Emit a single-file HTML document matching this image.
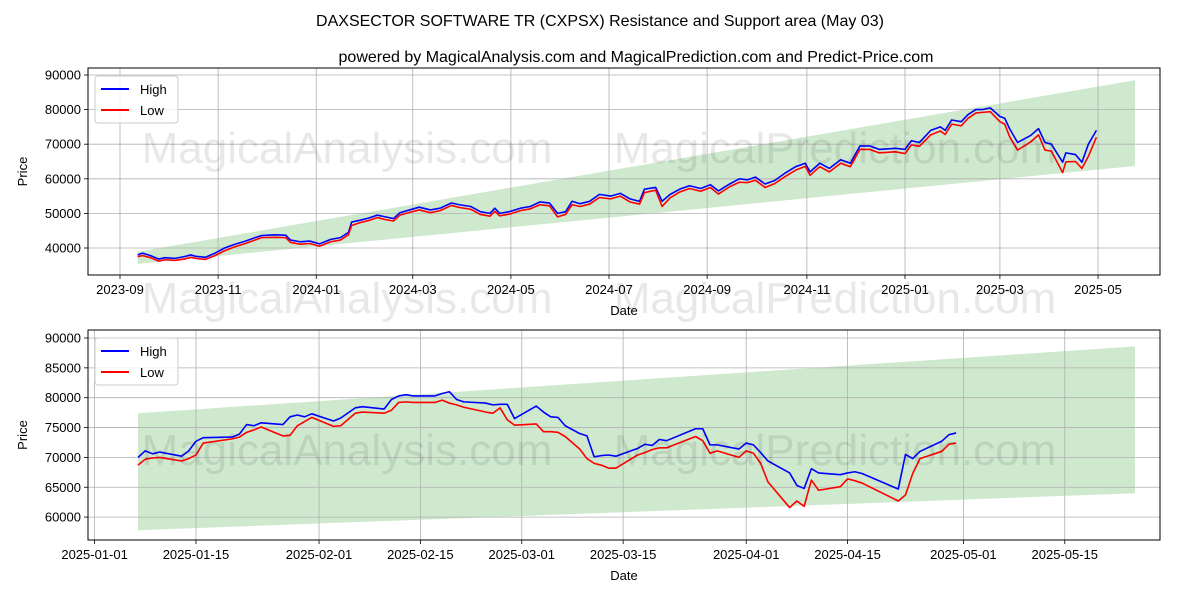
<!DOCTYPE html>
<html><head><meta charset="utf-8"><style>
body{margin:0;background:#fff;}
svg{display:block;font-family:"Liberation Sans","DejaVu Sans",sans-serif;}
</style></head><body>
<svg id="chart" width="1200" height="600" viewBox="0 0 1200 600" xmlns="http://www.w3.org/2000/svg">
<rect width="1200" height="600" fill="#fff"/>
<text x="600" y="26" text-anchor="middle" font-size="16">DAXSECTOR SOFTWARE TR (CXPSX) Resistance and Support area (May 03)</text>
<text x="636" y="62" text-anchor="middle" font-size="16">powered by MagicalAnalysis.com and MagicalPrediction.com and Predict-Price.com</text>
<g id="top"></g>
<g id="bot"></g>
<g font-size="44" fill="#000" fill-opacity="0.09">
<text x="347" y="163" text-anchor="middle">MagicalAnalysis.com</text>
<text x="835" y="163" text-anchor="middle">MagicalPrediction.com</text>
<text x="347" y="313" text-anchor="middle">MagicalAnalysis.com</text>
<text x="835" y="313" text-anchor="middle">MagicalPrediction.com</text>
<text x="347" y="465" text-anchor="middle">MagicalAnalysis.com</text>
<text x="835" y="465" text-anchor="middle">MagicalPrediction.com</text>
</g>
</svg>
<script>
// ---- top chart data (days since 2023-09-01) ----
const topDays=[11,14,19,24,28,34,40,44,47,53,59,65,71,78,84,88,96,103,106,112,118,124,131,137,142,144,149,155,160,165,170,174,180,186,193,199,206,211,218,224,230,233,236,242,249,255,261,267,272,277,281,286,292,298,305,311,317,323,326,333,337,342,348,354,361,367,372,379,385,390,395,401,407,413,420,426,429,435,441,448,454,460,466,472,482,488,492,497,504,510,513,517,523,527,532,536,541,547,550,553,558,566,571,575,579,586,588,594,598,602,607];
const topHigh=[38000,38500,37800,36800,37200,37000,37500,38000,37600,37300,38500,40000,41000,42000,43000,43600,43800,43700,42300,41800,42000,41200,42500,43000,44500,47500,48000,48700,49500,49000,48500,50200,51000,51800,51000,51500,53000,52500,52000,50500,50000,51500,50000,50500,51500,52000,53300,53000,50000,50500,53500,52800,53500,55500,55000,55800,54200,53500,57000,57500,53500,55500,57000,58000,57200,58300,56500,58500,60000,59700,60500,58500,59500,61500,63500,64500,62000,64500,63000,65500,64500,69500,69500,68500,68800,68500,71000,70500,74000,75000,74000,77000,76500,78500,80000,80000,80500,78000,77500,74500,70500,72500,74500,70500,70000,64800,67500,67000,64800,70000,74000];
const topLow=[37500,37800,37200,36200,36600,36400,36800,37300,37000,36700,37800,39200,40300,41300,42300,43000,43100,43000,41600,41100,41300,40500,41800,42300,43800,46500,47300,48000,48800,48200,47800,49500,50300,51000,50200,50800,52300,51700,51200,49700,49200,50600,49300,49800,50800,51300,52500,52200,49000,49700,52500,52000,52700,54600,54200,55000,53300,52700,56000,56700,52000,54500,56200,57200,56400,57500,55600,57700,59000,58900,59600,57500,58600,60500,62500,63600,61000,63500,62000,64500,63500,68500,68500,67500,67800,67300,69800,69400,72700,73800,72800,75800,75300,77400,79000,79200,79400,76500,75800,72200,68300,70600,72700,68300,68000,61800,64900,65000,63000,66500,72000];
const topBandDays=[11,631];
const topBandUpper=[38900,88500];
const topBandLower=[35400,63700];
const topYTicks=[40000,50000,60000,70000,80000,90000];
const topXTickDays=[0,61,122,182,243,304,365,427,488,547,608];
const topXTickLabels=["2023-09","2023-11","2024-01","2024-03","2024-05","2024-07","2024-09","2024-11","2025-01","2025-03","2025-05"];

// ---- bottom chart data (days since 2025-01-01) ----
const botDays=[6,7,8,9,12,13,14,15,19,20,21,22,23,26,27,28,29,30,33,34,36,37,40,41,42,43,44,47,48,49,50,51,54,55,56,57,58,61,62,63,64,65,67,68,69,70,71,72,75,76,77,78,79,83,84,85,86,89,90,91,92,93,96,97,98,99,100,103,104,105,106,111,112,113,114,117,118,119];
const botHigh=[70000,71100,70600,70900,70200,71100,72700,73300,73400,73900,75500,75300,75800,75500,76800,77100,76800,77300,76100,76600,78300,78500,78100,79700,80300,80500,80300,80300,80700,81000,79700,79300,79100,78800,78900,78900,76500,78600,77600,76800,76700,75300,74000,73600,70100,70300,70400,70200,71500,72200,72000,73000,72800,74800,74800,72100,72100,71400,72400,72100,70800,69400,67400,65300,64800,68100,67400,67100,67400,67600,67300,64700,70500,69800,71000,72700,73800,74100];
const botLow=[68700,69700,69900,70000,69400,69800,70400,72400,73100,73400,74200,74600,75100,73600,73700,75300,76000,76700,75200,75300,77400,77600,77400,77900,79200,79300,79200,79200,79600,79100,78800,78400,77600,77400,78300,76300,75400,75600,74300,74300,74200,73500,71400,69800,69000,68700,68200,68200,70400,70800,71300,71600,71600,73500,72800,70700,71100,70000,71100,70700,69000,65900,61600,62700,61800,66200,64500,65100,66400,66100,65700,62700,63700,67300,69800,71000,72200,72400];
const botBandDays=[6,143.7];
const botBandUpper=[77400,88600];
const botBandLower=[57800,64000];
const botYTicks=[60000,65000,70000,75000,80000,85000,90000];
const botXTickDays=[0,14,31,45,59,73,90,104,120,134];
const botXTickLabels=["2025-01-01","2025-01-15","2025-02-01","2025-02-15","2025-03-01","2025-03-15","2025-04-01","2025-04-15","2025-05-01","2025-05-15"];

const NS="http://www.w3.org/2000/svg";
function mk(parent,tag,attrs){const e=document.createElementNS(NS,tag);for(const k in attrs)e.setAttribute(k,attrs[k]);parent.appendChild(e);return e;}

function panel(g,cfg){
  const {L,R,T,B,x,y}=cfg;
  // band
  const pts=[];
  for(let i=0;i<cfg.bandDays.length;i++)pts.push(x(cfg.bandDays[i])+","+y(cfg.bandUpper[i]));
  for(let i=cfg.bandDays.length-1;i>=0;i--)pts.push(x(cfg.bandDays[i])+","+y(cfg.bandLower[i]));
  const band=mk(g,"polygon",{points:pts.join(" "),fill:"#2ca02c","fill-opacity":"0.23"});
  
  
  // grid + ticks
  cfg.yTicks.forEach(v=>{
    const yy=y(v);
    const gl=mk(g,"line",{x1:L,x2:R,y1:yy,y2:yy,stroke:"#b0b0b0","stroke-width":"0.8"});
    
    
    mk(g,"line",{x1:L-4,x2:L,y1:yy,y2:yy,stroke:"#000","stroke-width":"0.8"});
    const t=mk(g,"text",{x:L-7,y:yy+4.5,"text-anchor":"end","font-size":"13"});
    t.textContent=v;
    
    
  });
  cfg.xTickDays.forEach((d,i)=>{
    const xx=x(d);
    const gl=mk(g,"line",{x1:xx,x2:xx,y1:T,y2:B,stroke:"#b0b0b0","stroke-width":"0.8"});
    
    
    mk(g,"line",{x1:xx,x2:xx,y1:B,y2:B+4,stroke:"#000","stroke-width":"0.8"});
    const t=mk(g,"text",{x:xx,y:B+19,"text-anchor":"middle","font-size":"13"});
    t.textContent=cfg.xTickLabels[i];
    
    
  });
  // series
  const hp=cfg.days.map((d,i)=>x(d)+","+y(cfg.high[i])).join(" ");
  const lp=cfg.days.map((d,i)=>x(d)+","+y(cfg.low[i])).join(" ");
  const hl=mk(g,"polyline",{points:hp,fill:"none",stroke:"#0000ff","stroke-width":"1.6","stroke-linejoin":"round"});
  
  
  const ll=mk(g,"polyline",{points:lp,fill:"none",stroke:"#ff0000","stroke-width":"1.6","stroke-linejoin":"round"});
  
  
  // frame
  const fr=mk(g,"rect",{x:L,y:T,width:R-L,height:B-T,fill:"none",stroke:"#000","stroke-width":"1"});
  
  
  // axis titles
  const xt=mk(g,"text",{x:(L+R)/2,y:B+40,"text-anchor":"middle","font-size":"13"});
  xt.textContent="Date";
  
  
  const yt=mk(g,"text",{x:0,y:0,"text-anchor":"middle","font-size":"13",transform:"translate(27,"+((T+B)/2)+") rotate(-90)"});
  yt.textContent="Price";
  
  
  // legend
  const lg=mk(g,"g",{});
  
  
  const ly=T+8;
  mk(lg,"rect",{x:L+7,y:ly,width:83,height:47,rx:3,fill:"#fff","fill-opacity":"0.8",stroke:"#ccc"});
  const e1=mk(lg,"g",{});
  
  
  mk(e1,"line",{x1:L+13,x2:L+41,y1:ly+13,y2:ly+13,stroke:"#0000ff","stroke-width":"2"});
  const t1=mk(e1,"text",{x:L+52,y:ly+18,"font-size":"13"});t1.textContent="High";
  const e2=mk(lg,"g",{});
  
  
  mk(e2,"line",{x1:L+13,x2:L+41,y1:ly+34,y2:ly+34,stroke:"#ff0000","stroke-width":"2"});
  const t2=mk(e2,"text",{x:L+52,y:ly+39,"font-size":"13"});t2.textContent="Low";
}

panel(document.getElementById("top"),{
  L:88,R:1160,T:68,B:275,
  x:d=>120+d*1.6086, y:v=>75+(90000-v)/10000*34.6,
  bandDays:topBandDays,bandUpper:topBandUpper,bandLower:topBandLower,
  yTicks:topYTicks,xTickDays:topXTickDays,xTickLabels:topXTickLabels,
  days:topDays,high:topHigh,low:topLow
});
panel(document.getElementById("bot"),{
  L:88,R:1160,T:330,B:540,
  x:d=>94.6+d*7.24, y:v=>338+(90000-v)/10000*59.7,
  bandDays:botBandDays,bandUpper:botBandUpper,bandLower:botBandLower,
  yTicks:botYTicks,xTickDays:botXTickDays,xTickLabels:botXTickLabels,
  days:botDays,high:botHigh,low:botLow
});
</script>
</body></html>
